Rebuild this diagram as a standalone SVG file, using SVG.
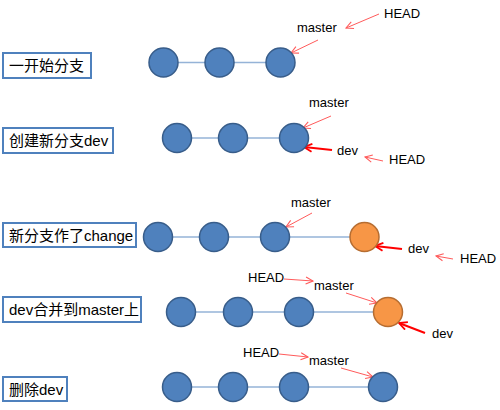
<svg xmlns="http://www.w3.org/2000/svg" width="500" height="410" viewBox="0 0 500 410">
<defs>
<style>
.box{fill:#fff;stroke:#4f81bd;stroke-width:2}
.lbl{font-family:"Liberation Sans","Noto Sans CJK SC",sans-serif;font-size:15px;fill:#000}
.t{font-family:"Liberation Sans",sans-serif;font-size:13px;fill:#000}
.c{fill:#4f81bd;stroke:#385d8a;stroke-width:1.5}
.o{fill:#f79646;stroke:#b66d31;stroke-width:1.5}
.ln{stroke:#95b3d7;stroke-width:1.5;fill:none}
.a{stroke:#ff5b5b;stroke-width:1;fill:none;marker-end:url(#ah)}
.b{stroke:#ff0000;stroke-width:2;fill:none;marker-end:url(#bh)}
</style>
<marker id="ah" viewBox="0 0 10 10" refX="9" refY="5" markerWidth="9" markerHeight="9" markerUnits="userSpaceOnUse" orient="auto"><path d="M1,1 L9,5 L1,9" fill="none" stroke="#ff5b5b" stroke-width="1.2"/></marker>
<marker id="bh" viewBox="0 0 10 10" refX="9" refY="5" markerWidth="10" markerHeight="10" markerUnits="userSpaceOnUse" orient="auto"><path d="M1,1 L9,5 L1,9" fill="none" stroke="#ff0000" stroke-width="1.8"/></marker>
</defs>
<rect width="500" height="410" fill="#fff"/>
<g id="connectors">
<line class="ln" x1="163.5" y1="62.5" x2="280.5" y2="62.5"/>
<line class="ln" x1="177" y1="138" x2="294" y2="138"/>
<line class="ln" x1="158" y1="237" x2="364.5" y2="237"/>
<line class="ln" x1="181" y1="312" x2="388" y2="312"/>
<line class="ln" x1="177" y1="387" x2="383" y2="387"/>
<line class="a" x1="379" y1="14" x2="346" y2="28"/>
<line class="a" x1="318" y1="40" x2="291" y2="53"/>
<line class="a" x1="331" y1="116" x2="303" y2="128"/>
<line class="b" x1="332" y1="150" x2="304" y2="147"/>
<line class="a" x1="383" y1="161" x2="365" y2="157"/>
<line class="a" x1="312" y1="213" x2="286" y2="227"/>
<line class="b" x1="402" y1="249" x2="375" y2="246"/>
<line class="a" x1="453" y1="259" x2="436" y2="256"/>
<line class="a" x1="284" y1="279" x2="313" y2="281"/>
<line class="a" x1="346" y1="293" x2="377" y2="303"/>
<line class="b" x1="425" y1="333" x2="399" y2="323"/>
<line class="a" x1="279" y1="354" x2="308" y2="357"/>
<line class="a" x1="341" y1="368" x2="373" y2="377"/>
</g>
<g id="step1">
<rect class="box" x="3" y="53" width="88" height="25"/>
<text class="lbl" x="9" y="71">一开始分支</text>
<circle class="c" cx="163.5" cy="62.5" r="14.5"/>
<circle class="c" cx="219.5" cy="62.5" r="14.5"/>
<circle class="c" cx="280.5" cy="62.5" r="14.5"/>
<text class="t" x="297" y="32">master</text>
<text class="t" x="384" y="18">HEAD</text>
</g>
<g id="step2">
<rect class="box" x="3" y="128" width="110" height="25"/>
<text class="lbl" x="9" y="146">创建新分支dev</text>
<circle class="c" cx="177" cy="138" r="14.5"/>
<circle class="c" cx="233" cy="138" r="14.5"/>
<circle class="c" cx="294" cy="138" r="14.5"/>
<text class="t" x="309" y="107">master</text>
<text class="t" x="337" y="155">dev</text>
<text class="t" x="389" y="164">HEAD</text>
</g>
<g id="step3">
<rect class="box" x="3" y="223" width="133" height="24"/>
<text class="lbl" x="9" y="241">新分支作了change</text>
<circle class="c" cx="158" cy="237" r="14.5"/>
<circle class="c" cx="214" cy="237" r="14.5"/>
<circle class="c" cx="275" cy="237" r="14.5"/>
<circle class="o" cx="364.5" cy="237" r="14.5"/>
<text class="t" x="291" y="207">master</text>
<text class="t" x="408" y="253">dev</text>
<text class="t" x="460" y="263">HEAD</text>
</g>
<g id="step4">
<rect class="box" x="3" y="297" width="138" height="25"/>
<text class="lbl" x="9" y="315">dev合并到master上</text>
<circle class="c" cx="181" cy="312" r="14.5"/>
<circle class="c" cx="238" cy="312" r="14.5"/>
<circle class="c" cx="299" cy="312" r="14.5"/>
<circle class="o" cx="388" cy="312" r="14.5"/>
<text class="t" x="248" y="282">HEAD</text>
<text class="t" x="314" y="290">master</text>
<text class="t" x="432" y="338">dev</text>
</g>
<g id="step5">
<rect class="box" x="3" y="377" width="64" height="24"/>
<text class="lbl" x="9" y="395">删除dev</text>
<circle class="c" cx="177" cy="387" r="14.5"/>
<circle class="c" cx="233" cy="387" r="14.5"/>
<circle class="c" cx="294" cy="387" r="14.5"/>
<circle class="c" cx="383" cy="387" r="14.5"/>
<text class="t" x="243" y="357">HEAD</text>
<text class="t" x="309" y="365">master</text>
</g>
</svg>
